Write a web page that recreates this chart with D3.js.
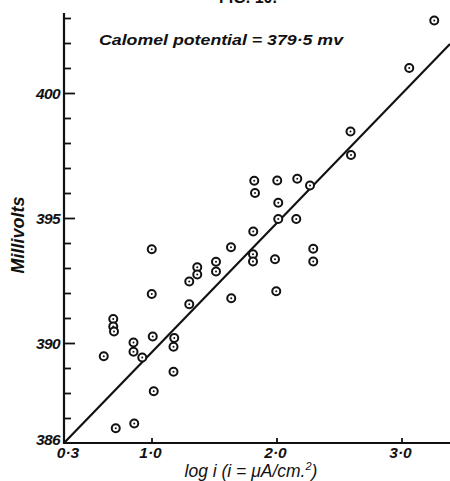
<!DOCTYPE html>
<html>
<head>
<meta charset="utf-8">
<script src="https://cdn.jsdelivr.net/npm/d3@7"></script>
<style>
  html, body { margin: 0; padding: 0; background: #fff; }
  svg { display: block; }
  text { fill: #111; }
</style>
</head>
<body>
<svg id="chart" width="450" height="481"></svg>
<script>
// ---- data ----
const logI = [3.262, 3.062, 2.592, 2.596, 1.822, 1.828, 2.006, 2.014, 2.166, 2.268,
              2.014, 2.158, 1.814, 1.636, 1.812, 1.812, 1.988, 2.294, 2.294, 1.998,
              1.638, 1.002, 1.002, 1.302, 1.366, 1.366, 1.516, 1.516, 1.302, 0.694,
              0.694, 0.700, 0.856, 0.856, 0.926, 1.010, 1.182, 1.176, 0.618, 1.176,
              1.018, 0.862, 0.714];
const millivolts = [402.9, 401.0, 398.46, 397.52, 396.49, 396.0, 396.5, 395.61, 396.57, 396.3,
                    394.96, 394.96, 394.46, 393.83, 393.55, 393.26, 393.35, 393.77, 393.26, 392.07,
                    391.79, 393.75, 391.96, 392.46, 393.03, 392.74, 393.25, 392.86, 391.55, 390.96,
                    390.66, 390.46, 390.02, 389.65, 389.42, 390.26, 390.2, 389.85, 389.47, 388.85,
                    388.07, 386.78, 386.59];
const fitX = [0.3, 3.388];
const fitY = [386.0, 401.96];
const xTickValues = [0.3, 1.0, 2.0, 3.0];
const xTickLabels = ["0·3", "1·0", "2·0", "3·0"];
const yMajorTicks = [386, 390, 395, 400];
const yMinorTicks = [387, 388, 389, 391, 392, 393, 394, 396, 397, 398, 399, 401, 402, 403];
const titleText = "FIG. 10.";
const noteText = "Calomel potential = 379·5 mv";
const yLabel = "Millivolts";

// ---- layout ----
const svg = d3.select("#chart");
const x = d3.scaleLinear().domain([0.3, 3.388]).range([64, 450]);
const y = d3.scaleLinear().domain([386, 403.2]).range([443, 13]);
const ital = "'Liberation Sans', Arial, sans-serif";

// title (cut off at the top, as in the reference)
svg.append("text").attr("x", 248).attr("y", 3)
  .attr("text-anchor", "middle").attr("font-family", ital)
  .attr("font-weight", "bold").attr("font-size", 16).text(titleText);

// y axis
const yAxisMajor = d3.axisRight(y).tickValues(yMajorTicks.filter(v => v !== 386))
  .tickSize(11).tickFormat("");
const yAxisMinor = d3.axisRight(y).tickValues(yMinorTicks).tickSize(7).tickFormat("");
const gy = svg.append("g").attr("transform", `translate(${x(0.3)},0)`);
gy.call(yAxisMinor);
const gy2 = svg.append("g").attr("transform", `translate(${x(0.3)},0)`);
gy2.call(yAxisMajor);
[gy, gy2].forEach(g => {
  g.select(".domain").remove();
  g.selectAll(".tick line").attr("stroke", "#111").attr("stroke-width", 1.8);
});
svg.append("line").attr("x1", x(0.3)).attr("x2", x(0.3))
  .attr("y1", y.range()[1]).attr("y2", y.range()[0] + 1)
  .attr("stroke", "#111").attr("stroke-width", 2.2);

// y tick labels
svg.append("g").selectAll("text").data(yMajorTicks).join("text")
  .attr("x", 60).attr("y", d => y(d) - (d === 386 ? 4 : 0)).attr("dy", "0.36em")
  .attr("text-anchor", "end").attr("font-family", ital)
  .attr("font-style", "italic").attr("font-weight", "bold").attr("font-size", 15.5)
  .attr("letter-spacing", -0.6)
  .text(d => d);

// x axis
const xAxis = d3.axisTop(x).tickValues(xTickValues.filter(v => v !== 0.3)).tickSize(5).tickFormat("");
const gx = svg.append("g").attr("transform", `translate(0,${y(386)})`).call(xAxis);
gx.select(".domain").remove();
gx.selectAll(".tick line").attr("stroke", "#111").attr("stroke-width", 1.8);
svg.append("line").attr("x1", x(0.3) - 1).attr("x2", 450)
  .attr("y1", y(386)).attr("y2", y(386))
  .attr("stroke", "#111").attr("stroke-width", 2.2);

svg.append("g").selectAll("text").data(xTickValues).join("text")
  .attr("x", (d, i) => x(d) + (i === 0 ? 4 : -1)).attr("y", 458)
  .attr("text-anchor", "middle").attr("font-family", ital)
  .attr("font-style", "italic").attr("font-weight", "bold").attr("font-size", 15.5)
  .text((d, i) => xTickLabels[i]);

// x axis label
const xl = svg.append("text").attr("x", 251).attr("y", 477)
  .attr("text-anchor", "middle").attr("font-family", ital)
  .attr("font-style", "italic").attr("font-size", 17.5);
xl.append("tspan").text("log i (i = μA/cm.");
xl.append("tspan").attr("font-size", 11).attr("dy", -7).text("2");
xl.append("tspan").attr("dy", 7).text(")");

// y axis label
svg.append("text")
  .attr("transform", `translate(24,235) rotate(-90)`)
  .attr("text-anchor", "middle").attr("font-family", ital)
  .attr("font-style", "italic").attr("font-weight", "bold").attr("font-size", 18)
  .text(yLabel);

// annotation
svg.append("text").attr("x", 99).attr("y", 45)
  .attr("font-family", ital).attr("font-style", "italic").attr("font-weight", "bold")
  .attr("font-size", 15).attr("textLength", 244).attr("lengthAdjust", "spacingAndGlyphs")
  .text(noteText);

// fit line
svg.append("line")
  .attr("x1", x(fitX[0])).attr("y1", y(fitY[0]))
  .attr("x2", x(fitX[1])).attr("y2", y(fitY[1]))
  .attr("stroke", "#111").attr("stroke-width", 2.2);

// points
const pts = svg.append("g").selectAll("g").data(logI.map((v, i) => [v, millivolts[i]])).join("g")
  .attr("transform", d => `translate(${x(d[0])},${y(d[1])})`);
pts.append("circle").attr("r", 4).attr("fill", "#fff")
  .attr("stroke", "#111").attr("stroke-width", 2);
pts.append("circle").attr("r", 1).attr("fill", "#111");
</script>
</body>
</html>
